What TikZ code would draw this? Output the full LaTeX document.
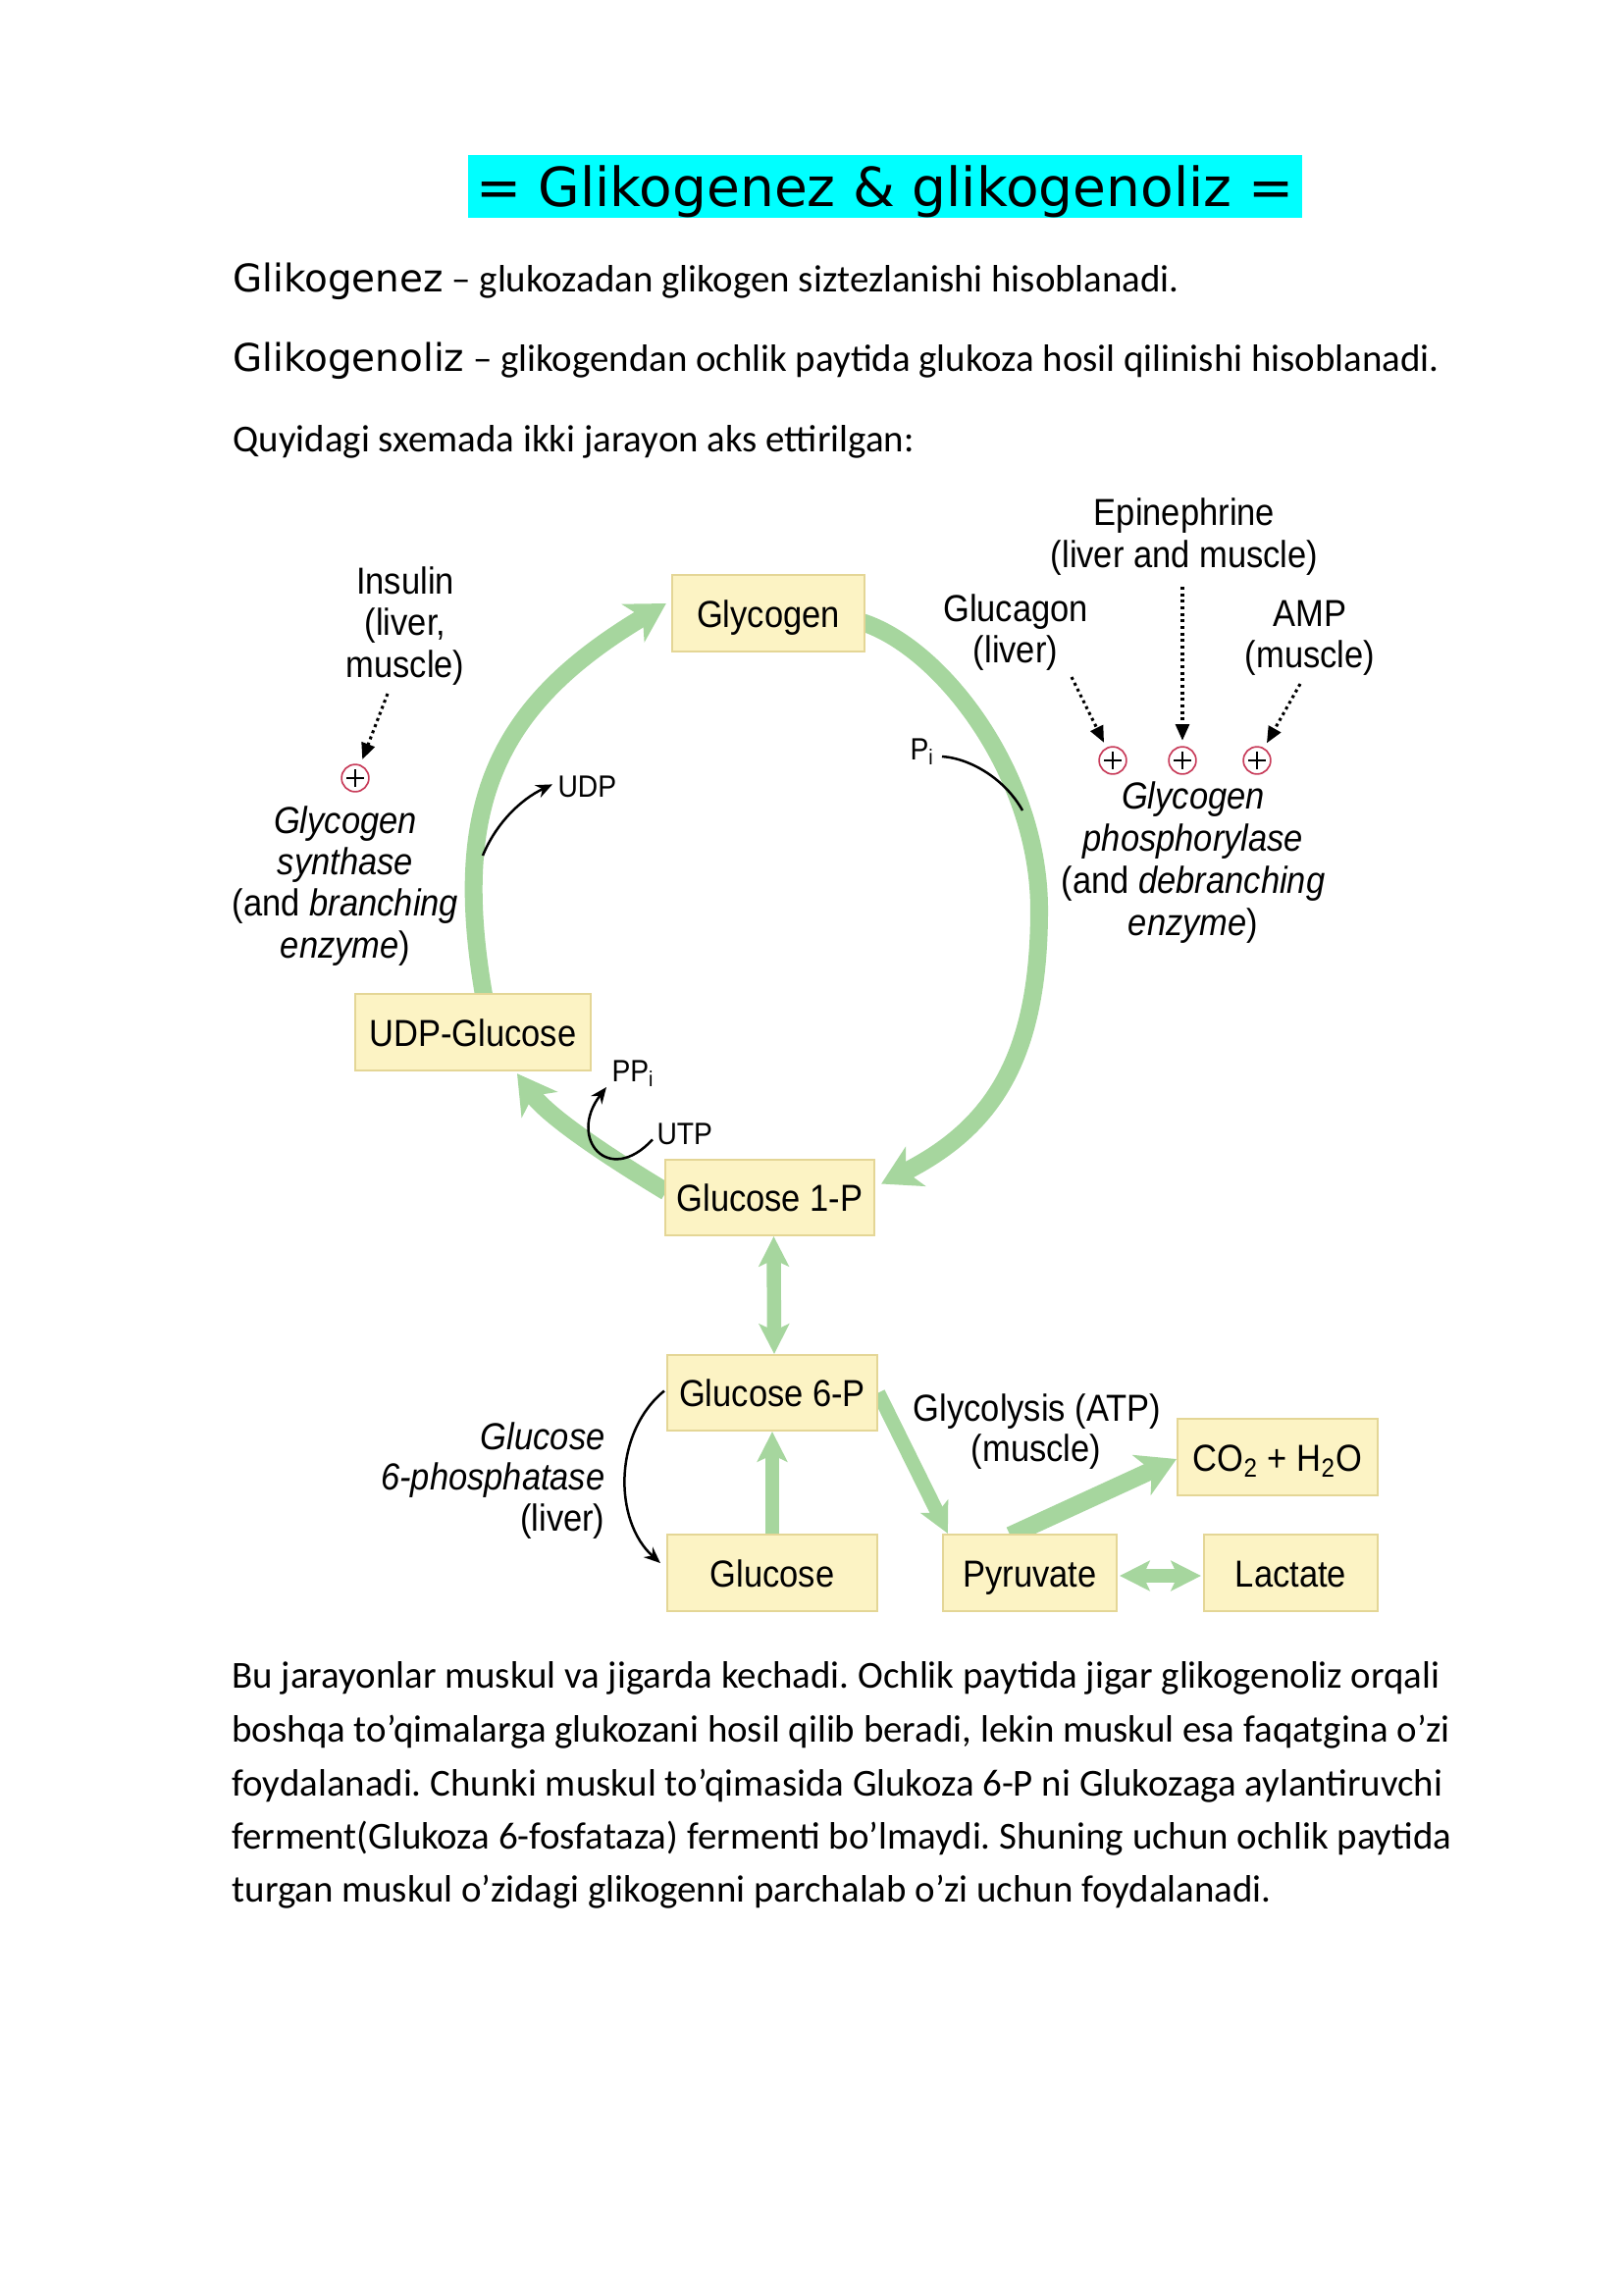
\documentclass[tikz,border=0pt]{standalone}
\usepackage{fontspec}
\setmainfont{Carlito}
\newfontfamily\dejavu{DejaVu Sans}
\newfontfamily\diag[FakeStretch=0.9]{Liberation Sans}
\usetikzlibrary{arrows.meta,calc,backgrounds}
\definecolor{grn}{RGB}{166,214,158}
\definecolor{hlcyan}{RGB}{0,255,255}
\definecolor{boxfill}{RGB}{252,243,196}
\definecolor{boxline}{RGB}{228,214,150}
\definecolor{plusred}{RGB}{200,60,90}
\frenchspacing
\tikzset{
 body/.style={anchor=base west, inner sep=0pt, font=\fontsize{14}{17}\selectfont},
 box/.style={draw=boxline, line width=0.8pt, fill=boxfill, inner sep=0pt, text height=10.4pt, text depth=0pt, font=\diag\fontsize{13.8}{16}\selectfont},
 lab/.style={anchor=base, inner sep=0pt, font=\diag\fontsize{13.8}{16}\selectfont},
 labr/.style={lab, anchor=base east},
 small/.style={anchor=base west, inner sep=0pt, font=\diag\fontsize{11.3}{13}\selectfont},
 gbig/.style={draw=grn, line width=6.5pt, -{Stealth[length=14pt,width=16pt,inset=4pt]}},
 gthin/.style={draw=grn, line width=5.2pt, -{Stealth[length=11pt,width=11pt,inset=2.5pt]}},
 gboth/.style={draw=grn, line width=5.2pt, {Stealth[length=11pt,width=11pt,inset=2.5pt]}-{Stealth[length=11pt,width=11pt,inset=2.5pt]}},
 blk/.style={draw=black, line width=0.9pt, -{Stealth[length=6pt,width=5pt]}},
 dotarrow/.style={draw=black, line width=1.1pt, dash pattern=on 1.1pt off 1.3pt, shorten >=2pt, -{Triangle[length=6pt,width=5pt]}},
 plusc/.style={circle, draw=plusred, line width=0.6pt, minimum size=10pt, inner sep=0pt,
   path picture={\draw[black,line width=0.6pt]
     ($(path picture bounding box.center)+(-9,0)$) -- ($(path picture bounding box.center)+(9,0)$)
     ($(path picture bounding box.center)+(0,-9)$) -- ($(path picture bounding box.center)+(0,9)$);}},
}
\begin{document}
\begin{tikzpicture}[x=0.36pt,y=-0.36pt]
\useasboundingbox (0,0) rectangle (1654,2339);

% title
\fill[hlcyan] (477,158) rectangle (1327,222);
\node[anchor=base, inner sep=0pt, font=\dejavu\fontsize{19.8}{24}\selectfont] (title) at (902,210) {= Glikogenez \& glikogenoliz =};

% header text
\node[body] (h1) at (237,297) {{\dejavu Glikogenez} – glukozadan glikogen siztezlanishi hisoblanadi.};
\node[body] (h2) at (237,378) {{\dejavu Glikogenoliz} – glikogendan ochlik paytida glukoza hosil qilinishi hisoblanadi.};
\node[body] (h3) at (237,460) {Quyidagi sxemada ikki jarayon aks ettirilgan:};

% boxes
\node[box, minimum width=70.6pt, minimum height=28.1pt] (glycogen) at (783,625) {Glycogen};
\node[box, minimum width=86.4pt, minimum height=28.1pt] (udp) at (482,1052) {UDP-Glucose};
\node[box, minimum width=76.7pt, minimum height=27.7pt] (g1p) at (784.5,1220.5) {Glucose 1-P};
\node[box, minimum width=77pt, minimum height=27.7pt] (g6p) at (787,1419.5) {Glucose 6-P};
\node[box, minimum width=77pt, minimum height=28.1pt] (glc) at (787,1603) {Glucose};
\node[box, minimum width=63.7pt, minimum height=28.1pt] (pyr) at (1049.5,1603) {Pyruvate};
\node[box, minimum width=63.7pt, minimum height=28.1pt] (lac) at (1315.5,1603) {Lactate};
\node[box, minimum width=73.4pt, minimum height=28.1pt] (co2) at (1302,1485) {CO\textsubscript{2} + H\textsubscript{2}O};

% left labels
\node[lab] (ins1) at (413,605) {Insulin};
\node[lab] (ins2) at (413,647) {(liver,};
\node[lab] (ins3) at (413,690) {muscle)};
\node[lab] (gs1) at (352,849) {\itshape Glycogen};
\node[lab] (gs2) at (352,891) {\itshape synthase};
\node[lab] (gs3) at (352,933) {(and \textit{branching}};
\node[lab] (gs4) at (352,976) {\textit{enzyme})};

% right labels
\node[lab] (epi1) at (1207,535) {Epinephrine};
\node[lab] (epi2) at (1207,578) {(liver and muscle)};
\node[lab] (gcg1) at (1035,633) {Glucagon};
\node[lab] (gcg2) at (1035,675) {(liver)};
\node[lab] (amp1) at (1335,638) {AMP};
\node[lab] (amp2) at (1335,680) {(muscle)};
\node[lab] (gp1) at (1216,824) {\itshape Glycogen};
\node[lab] (gp2) at (1216,867) {\itshape phosphorylase};
\node[lab] (gp3) at (1216,910) {(and \textit{debranching}};
\node[lab] (gp4) at (1216,953) {\textit{enzyme})};

% lower labels
\node[labr] (g6a) at (617,1477) {\itshape Glucose};
\node[labr] (g6b) at (617,1518) {\itshape 6-phosphatase};
\node[labr] (g6c) at (617,1560) {(liver)};
\node[lab] (gly1) at (1057,1448) {Glycolysis (ATP)};
\node[lab] (gly2) at (1056,1489) {(muscle)};

% small labels
\node[small] (udplab) at (568,812) {UDP};
\node[small] (utp) at (669,1166) {UTP};
\node[small] (ppi) at (623,1102) {PP\textsubscript{i}};
\node[small] (pi) at (927,774) {P\textsubscript{i}};

% plus circles
\node[plusc] (p0) at (362,793) {};
\node[plusc] (p1) at (1134,775) {};
\node[plusc] (p2) at (1205,775) {};
\node[plusc] (p3) at (1281,775) {};

% dotted activation arrows
\coordinate (insS) at (395,707);
\coordinate (gcgS) at (1092,690);
\coordinate (epiS) at (1205,598);
\coordinate (ampS) at (1325,697);
\draw[dotarrow] (insS) -- (p0);
\draw[dotarrow] (gcgS) -- (p1);
\draw[dotarrow] (epiS) -- (p2);
\draw[dotarrow] (ampS) -- (p3);

% green pathway arrows (behind boxes)
\begin{scope}[on background layer]
\fill[white] (0,0) rectangle (1654,2339);
\draw[gbig] ($(glycogen.east)+(-4,9)$) .. controls (960,660) and (1059,790) .. (1059,927)
   .. controls (1059,1080) and (1010,1150) .. ($(g1p.east)+(6,-14)$);
\draw[gbig] ($(udp.north)+(11,2)$) .. controls (459,817) and (508,717) .. ($(glycogen.west)+(-5,-10)$);
\draw[gbig] ($(g1p.west)+(2,-6)$) .. controls (630,1185) and (560,1140) .. ($(udp.south)+(45,2)$);
\draw[gboth] ($(g1p.south)+(4,0)$) -- ($(g6p.north)+(2,0)$);
\draw[gthin] (glc.north) -- (g6p.south);
\draw[gthin] (g6p.east) -- ($(pyr.north west)+(6,0)$);
\draw[gbig] ($(pyr.north)+(-20,2)$) -- ($(co2.west)+(0,2)$);
\draw[gboth] ($(pyr.east)+(2,3)$) -- ($(lac.west)+(-2,3)$);
\end{scope}

% black side reactions
\coordinate (udpS) at (492,872);
\draw[blk] (udpS) .. controls (505,840) and (530,815) .. ($(udplab.west)+(-5,-2)$);
\draw[blk] ($(utp.west)+(-4,6)$) .. controls (620,1210) and (578,1160) .. ($(ppi.south west)+(-5,0)$);
\coordinate (piS) at (960,771);
\coordinate (piE) at (1042,826);
\draw[black, line width=0.9pt] (piS) .. controls (990,773) and (1025,795) .. (piE);
\draw[blk] ($(g6p.west)+(-2,-2)$) .. controls (625,1460) and (625,1550) .. ($(glc.west)+(-6,-10)$);

% bottom paragraph
\node[body] (b1) at (236,1720) {Bu jarayonlar muskul va jigarda kechadi. Ochlik paytida jigar glikogenoliz orqali};
\node[body] (b2) at (236,1775) {boshqa to’qimalarga glukozani hosil qilib beradi, lekin muskul esa faqatgina o’zi};
\node[body] (b3) at (236,1830) {foydalanadi. Chunki muskul to’qimasida Glukoza 6-P ni Glukozaga aylantiruvchi};
\node[body] (b4) at (236,1884) {ferment(Glukoza 6-fosfataza) fermenti bo’lmaydi. Shuning uchun ochlik paytida};
\node[body] (b5) at (236,1938) {turgan muskul o’zidagi glikogenni parchalab o’zi uchun foydalanadi.};
\end{tikzpicture}
\end{document}
